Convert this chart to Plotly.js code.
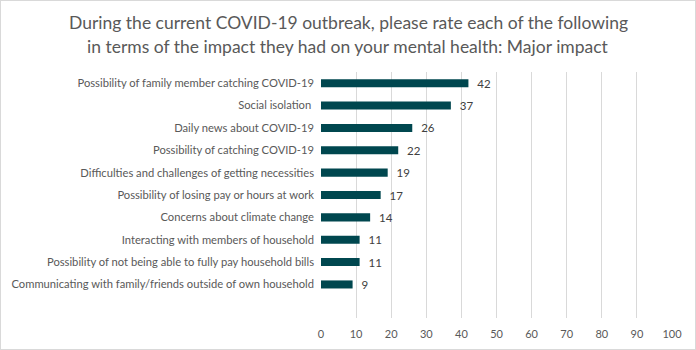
<!DOCTYPE html>
<html><head><meta charset="utf-8">
<script src="https://cdn.plot.ly/plotly-3.0.1.min.js"></script>
<style>html,body{margin:0;padding:0;background:#fff}#wrap{width:694px;height:348px;border:1px solid #d9d9d9}#chart{width:694px;height:348px}</style>
</head><body><div id="wrap"><div id="chart"></div></div>
<script>
const categories = [
  "Possibility of family member catching COVID-19",
  "Social isolation ",
  "Daily news about COVID-19",
  "Possibility of catching COVID-19",
  "Difficulties and challenges of getting necessities",
  "Possibility of losing pay or hours at work",
  "Concerns about climate change",
  "Interacting with members of household",
  "Possibility of not being able to fully pay household bills",
  "Communicating with family/friends outside of own household"
];
const values = [42, 37, 26, 22, 19, 17, 14, 11, 11, 9];
const xTicks = [0,10,20,30,40,50,60,70,80,90,100];
const titleLines = [
  "During the current COVID-19 outbreak, please rate each of the following",
  "in terms of the impact they had on your mental health: Major impact"
];

const FONT = "Lato, 'Open Sans', sans-serif";
const trace = {
  type: "bar", orientation: "h",
  x: values, y: categories,
  marker: {color: "#00474f"},
  width: 0.36,
  text: values.map(v => "\u00a0\u00a0" + v), textposition: "outside", cliponaxis: false,
  constraintext: "none",
  textfont: {family: FONT, size: 11.5, color: "#404040"},
  hoverinfo: "none"
};
const layout = {
  width: 694, height: 348,
  margin: {l: 320, r: 23, t: 71, b: 31},
  paper_bgcolor: "#fff", plot_bgcolor: "#fff",
  showlegend: false,
  annotations: titleLines.map((t, i) => ({
    text: t, xref: "paper", yref: "paper", x: 0.5, xanchor: "center",
    y: 1 + (i === 0 ? 50 : 26) / 246, yanchor: "middle", showarrow: false,
    font: {family: FONT, size: 17.5, color: "#595959"}
  })),
  xaxis: {range: [0, 100], tickvals: xTicks, ticktext: xTicks.map(String),
          showgrid: true, gridcolor: "#d9d9d9", gridwidth: 1, zeroline: false,
          showline: false, ticks: "", ticklabelstandoff: 8,
          tickfont: {family: FONT, size: 11, color: "#595959"}, fixedrange: true},
  yaxis: {type: "category", categoryorder: "array", categoryarray: categories,
          range: [10.5, -0.5], showgrid: false, zeroline: false, showline: false,
          ticks: "", ticklabelstandoff: 6,
          tickfont: {family: FONT, size: 11.2, color: "#595959"}, fixedrange: true}
};
const plotW = 694 - 320 - 23;
layout.annotations.forEach(a => { a.x = (347 - 320) / plotW; });
Plotly.newPlot("chart", [trace], layout, {staticPlot: true, displayModeBar: false});
</script></body></html>
